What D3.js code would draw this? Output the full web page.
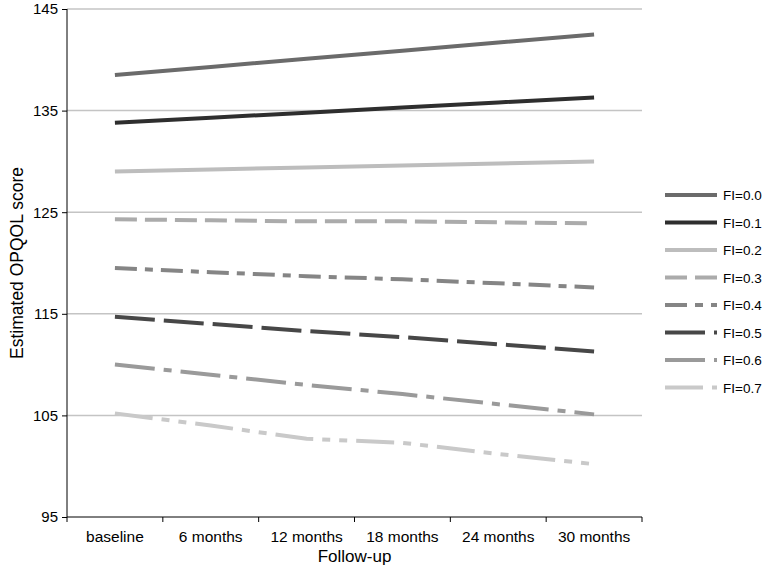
<!DOCTYPE html>
<html>
<head>
<meta charset="utf-8">
<script src="https://cdn.jsdelivr.net/npm/d3@7"></script>
<style>
  body { margin: 0; background: #fff; }
  text { font-family: "Liberation Sans", Arial, sans-serif; fill: #000; }
</style>
</head>
<body>
<div id="container"></div>
<script>
"use strict";

const followUp = ["baseline", "6 months", "12 months", "18 months", "24 months", "30 months"];
const yTicks = [95, 105, 115, 125, 135, 145];

const seriesNames = ["FI=0.0", "FI=0.1", "FI=0.2", "FI=0.3", "FI=0.4", "FI=0.5", "FI=0.6", "FI=0.7"];
const fi00 = [138.5, 139.3, 140.1, 140.9, 141.7, 142.5];
const fi01 = [133.8, 134.3, 134.8, 135.3, 135.8, 136.3];
const fi02 = [129.0, 129.2, 129.4, 129.6, 129.8, 130.0];
const fi03 = [124.3, 124.2, 124.1, 124.1, 124.0, 123.9];
const fi04 = [119.5, 119.1, 118.7, 118.4, 118.0, 117.6];
const fi05 = [114.7, 114.0, 113.3, 112.7, 112.0, 111.3];
const fi06 = [110.0, 109.0, 108.0, 107.1, 106.1, 105.1];
const fi07 = [105.2, 104.0, 102.7, 102.3, 101.2, 100.2];

const seriesValues = [fi00, fi01, fi02, fi03, fi04, fi05, fi06, fi07];
const seriesColors = ["#6b6b6b", "#2e2e2e", "#bdbdbd", "#ababab", "#858585", "#474747", "#9a9a9a", "#c9c9c9"];
const seriesDashes = [null, null, null, "22,8", "22,8,8,8", "40,9", "40,9,8,9", "38,9,8,9,8,9"];

const width = 767;
const height = 571;
const margin = { top: 9, right: 125, bottom: 54, left: 67 };
const plotRight = width - margin.right;
const plotBottom = height - margin.bottom;

const svg = d3.select("#container")
  .append("svg")
  .attr("width", width)
  .attr("height", height);

const x = d3.scaleBand()
  .domain(followUp)
  .range([margin.left, plotRight]);

const y = d3.scaleLinear()
  .domain([95, 145])
  .range([plotBottom, margin.top]);

// gridlines
svg.append("g")
  .selectAll("line")
  .data(yTicks.slice(1))
  .enter()
  .append("line")
  .attr("x1", margin.left)
  .attr("x2", plotRight)
  .attr("y1", d => y(d))
  .attr("y2", d => y(d))
  .style("stroke", "#c4c4c4")
  .style("stroke-width", 1.5);

// y axis
const yAxis = d3.axisLeft(y)
  .tickValues(yTicks)
  .tickSize(5)
  .tickPadding(4)
  .tickFormat(d3.format("d"));

const yg = svg.append("g")
  .attr("transform", `translate(${margin.left},0)`)
  .call(yAxis);
yg.select(".domain").remove();
yg.append("line")
  .attr("x1", 0).attr("x2", 0)
  .attr("y1", margin.top).attr("y2", plotBottom)
  .style("stroke", "#000");
yg.selectAll("text").style("font-size", "15px").style("fill", "#000");

// x axis, ticks at band boundaries
const xAxisG = svg.append("g")
  .attr("transform", `translate(0,${plotBottom})`);
xAxisG.append("line")
  .attr("x1", margin.left).attr("x2", plotRight)
  .style("stroke", "#000");
xAxisG.selectAll(".tick")
  .data(followUp.concat([null]))
  .enter()
  .append("line")
  .attr("x1", (d, i) => i < followUp.length ? x(d) : plotRight)
  .attr("x2", (d, i) => i < followUp.length ? x(d) : plotRight)
  .attr("y1", 0)
  .attr("y2", 5)
  .style("stroke", "#000");
xAxisG.selectAll("text")
  .data(followUp)
  .enter()
  .append("text")
  .attr("x", d => x(d) + x.bandwidth() / 2)
  .attr("y", 25)
  .attr("text-anchor", "middle")
  .style("font-size", "15.5px")
  .text(d => d);

// axis titles
svg.append("text")
  .attr("x", (margin.left + plotRight) / 2)
  .attr("y", 562)
  .attr("text-anchor", "middle")
  .style("font-size", "17px")
  .text("Follow-up");

svg.append("text")
  .attr("transform", `translate(23,${(margin.top + plotBottom) / 2}) rotate(-90)`)
  .attr("text-anchor", "middle")
  .style("font-size", "17.5px")
  .text("Estimated OPQOL score");

// lines
const line = d3.line()
  .x((d, i) => x(followUp[i]) + x.bandwidth() / 2)
  .y(d => y(d));

svg.append("g")
  .selectAll("path")
  .data(seriesValues)
  .enter()
  .append("path")
  .attr("d", d => line(d))
  .style("fill", "none")
  .style("stroke", (d, i) => seriesColors[i])
  .style("stroke-width", 4)
  .style("stroke-dasharray", (d, i) => seriesDashes[i]);

// legend
const legend = svg.append("g")
  .attr("transform", "translate(665,195)");

const legendItems = legend.selectAll("g")
  .data(seriesNames)
  .enter()
  .append("g")
  .attr("transform", (d, i) => `translate(0,${i * 27.5})`);

legendItems.append("line")
  .attr("x1", 0)
  .attr("x2", 52)
  .style("stroke", (d, i) => seriesColors[i])
  .style("stroke-width", 4)
  .style("stroke-dasharray", (d, i) => seriesDashes[i]);

legendItems.append("text")
  .attr("x", 58)
  .attr("y", 5)
  .style("font-size", "13.5px")
  .text(d => d);
</script>
</body>
</html>
